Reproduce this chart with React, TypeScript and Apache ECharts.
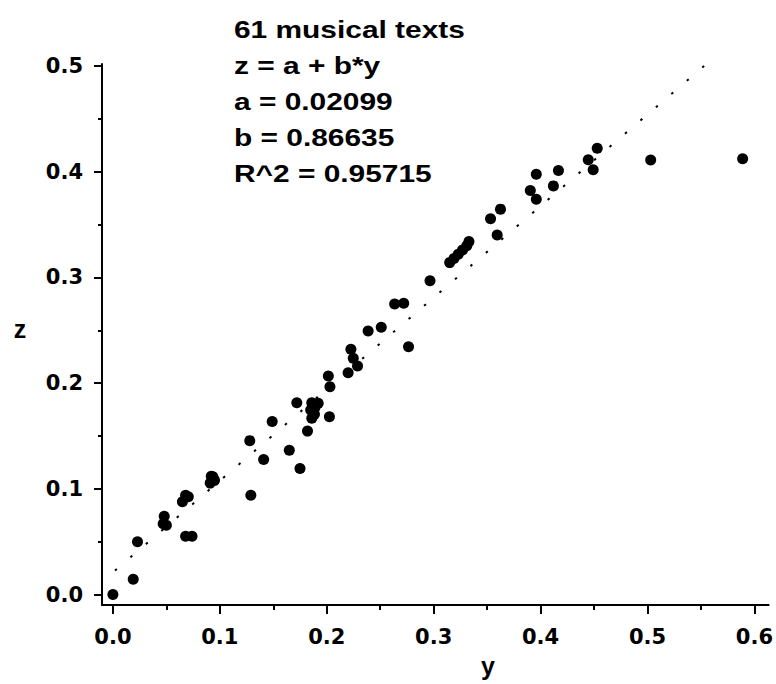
import React, { useEffect, useRef } from "react";
import * as echarts from "echarts";

// ---- data ----
const Y_VALUES = [
  0.0, 0.019, 0.023, 0.048, 0.047, 0.05, 0.068, 0.065, 0.0705, 0.068, 0.074,
  0.092, 0.095, 0.091, 0.0935, 0.128, 0.129, 0.141, 0.149, 0.165, 0.172,
  0.175, 0.182, 0.186, 0.192, 0.185, 0.186, 0.189, 0.1885, 0.2015, 0.203,
  0.2025, 0.22, 0.2226, 0.2248, 0.2288, 0.2387, 0.251, 0.2635, 0.272, 0.2765,
  0.2966, 0.315, 0.319, 0.323, 0.327, 0.331, 0.333, 0.3532, 0.3594, 0.3625,
  0.3904, 0.396, 0.396, 0.412, 0.4167, 0.4446, 0.4492, 0.453, 0.503, 0.589,
];
const Z_VALUES = [
  0.0, 0.0145, 0.05, 0.074, 0.067, 0.0656, 0.094, 0.0877, 0.0925, 0.0552,
  0.0552, 0.112, 0.108, 0.1054, 0.1115, 0.1456, 0.094, 0.1278, 0.1637, 0.1366,
  0.1814, 0.1193, 0.1546, 0.1814, 0.1809, 0.1745, 0.1667, 0.177, 0.1705,
  0.2067, 0.1966, 0.1682, 0.2099, 0.232, 0.2235, 0.2162, 0.2493, 0.2528,
  0.2749, 0.2755, 0.2345, 0.2969, 0.314, 0.318, 0.322, 0.326, 0.33, 0.334,
  0.3554, 0.3402, 0.3646, 0.3822, 0.374, 0.3977, 0.3866, 0.4011, 0.4113,
  0.4018, 0.4223, 0.411, 0.4123,
];

const FIT_A = 0.02099;
const FIT_B = 0.86635;
const FIT_R2 = 0.95715;
// drawn from the upper end downwards so the dot pattern starts at the top
const FIT_Y_RANGE = [0.553, 0.0];

const X_MAJOR_TICKS = [0, 0.1, 0.2, 0.3, 0.4, 0.5, 0.6];
const X_MINOR_TICKS = [0.05, 0.15, 0.25, 0.35, 0.45, 0.55];
const Z_MAJOR_TICKS = [0, 0.1, 0.2, 0.3, 0.4, 0.5];
const Z_MINOR_TICKS = [0.05, 0.15, 0.25, 0.35, 0.45];

const TITLE = "61 musical texts";
const X_NAME = "y";
const Y_NAME = "z";

const FONT = "'Liberation Sans', Arial, Helvetica, sans-serif";
const TICK_FONT = "'DejaVu Sans', 'Liberation Sans', Arial, sans-serif";

export default function App() {
  const ref = useRef<HTMLDivElement>(null);

  useEffect(() => {
    if (!ref.current) return;
    const chart = echarts.init(ref.current, null, { renderer: "svg" });

    const points = Y_VALUES.map((v, i) => [v, Z_VALUES[i]]);
    const fitLine = FIT_Y_RANGE.map((v) => [v, FIT_A + FIT_B * v]);

    const xMin = -0.0102;
    const xMax = 0.6133;
    const yMin = -0.0099;
    const yMax = 0.5019;

    const tickLabel = {
      color: "#000",
      fontFamily: TICK_FONT,
      fontWeight: "bold" as const,
      fontSize: 21,
    };

    const annLines = [
      TITLE,
      "z = a + b*y",
      `a = ${FIT_A.toFixed(5)}`,
      `b = ${FIT_B.toFixed(5)}`,
      `R^2 = ${FIT_R2.toFixed(5)}`,
    ];

    const graphics: any[] = annLines.map((t, i) => ({
      type: "text",
      x: 234,
      y: 30 + i * 36,
      scaleX: 1.3,
      style: {
        text: t,
        fill: "#000",
        font: `bold 23px ${FONT}`,
        verticalAlign: "middle",
        align: "left",
      },
    }));
    graphics.push({
      type: "text",
      x: 20,
      y: 329,
      style: { text: Y_NAME, fill: "#000", font: `bold 25px ${FONT}`, align: "center", verticalAlign: "middle" },
    });
    graphics.push({
      type: "text",
      x: 488,
      y: 666,
      style: { text: X_NAME, fill: "#000", font: `bold 25px ${FONT}`, align: "center", verticalAlign: "middle" },
    });

    const option: any = {
      animation: false,
      backgroundColor: "#fff",
      grid: { left: 102, top: 64, width: 671, height: 541, containLabel: false },
      xAxis: [
        {
          type: "value",
          min: xMin,
          max: xMax,
          position: "bottom",
          axisLine: { show: true, onZero: false, lineStyle: { color: "#000", width: 2 } },
          axisTick: {
            show: true,
            inside: false,
            length: 9,
            lineStyle: { color: "#000", width: 2 },
            customValues: X_MAJOR_TICKS,
          },
          axisLabel: {
            ...tickLabel,
            margin: 21,
            customValues: X_MAJOR_TICKS,
            formatter: (v: number) => v.toFixed(1),
          },
          splitLine: { show: false },
        },
        {
          type: "value",
          min: xMin,
          max: xMax,
          position: "bottom",
          axisLine: { show: false, onZero: false },
          axisTick: {
            show: true,
            length: 5,
            lineStyle: { color: "#000", width: 2 },
            customValues: X_MINOR_TICKS,
          },
          axisLabel: { show: false },
          splitLine: { show: false },
        },
      ],
      yAxis: [
        {
          type: "value",
          min: yMin,
          max: yMax,
          position: "left",
          axisLine: { show: true, onZero: false, lineStyle: { color: "#000", width: 2 } },
          axisTick: {
            show: true,
            length: 8,
            lineStyle: { color: "#000", width: 2 },
            customValues: Z_MAJOR_TICKS,
          },
          axisLabel: {
            ...tickLabel,
            margin: 19,
            customValues: Z_MAJOR_TICKS,
            formatter: (v: number) => v.toFixed(1),
          },
          splitLine: { show: false },
        },
        {
          type: "value",
          min: yMin,
          max: yMax,
          position: "left",
          axisLine: { show: false, onZero: false },
          axisTick: {
            show: true,
            length: 4,
            lineStyle: { color: "#000", width: 2 },
            customValues: Z_MINOR_TICKS,
          },
          axisLabel: { show: false },
          splitLine: { show: false },
        },
      ],
      series: [
        {
          type: "line",
          data: fitLine,
          xAxisIndex: 0,
          yAxisIndex: 0,
          showSymbol: false,
          symbol: "none",
          lineStyle: { color: "#000", width: 2, type: [2.5, 17.85] },
          silent: true,
          z: 1,
        },
        {
          type: "scatter",
          data: points,
          xAxisIndex: 0,
          yAxisIndex: 0,
          symbol: "circle",
          symbolSize: 11,
          itemStyle: { color: "#000", opacity: 1 },
          z: 2,
        },
      ],
      graphic: graphics,
    };

    chart.setOption(option);
    return () => chart.dispose();
  }, []);

  return (
    <div
      ref={ref}
      style={{ position: "fixed", left: 0, top: 0, width: 776, height: 684, background: "#fff" }}
    />
  );
}
